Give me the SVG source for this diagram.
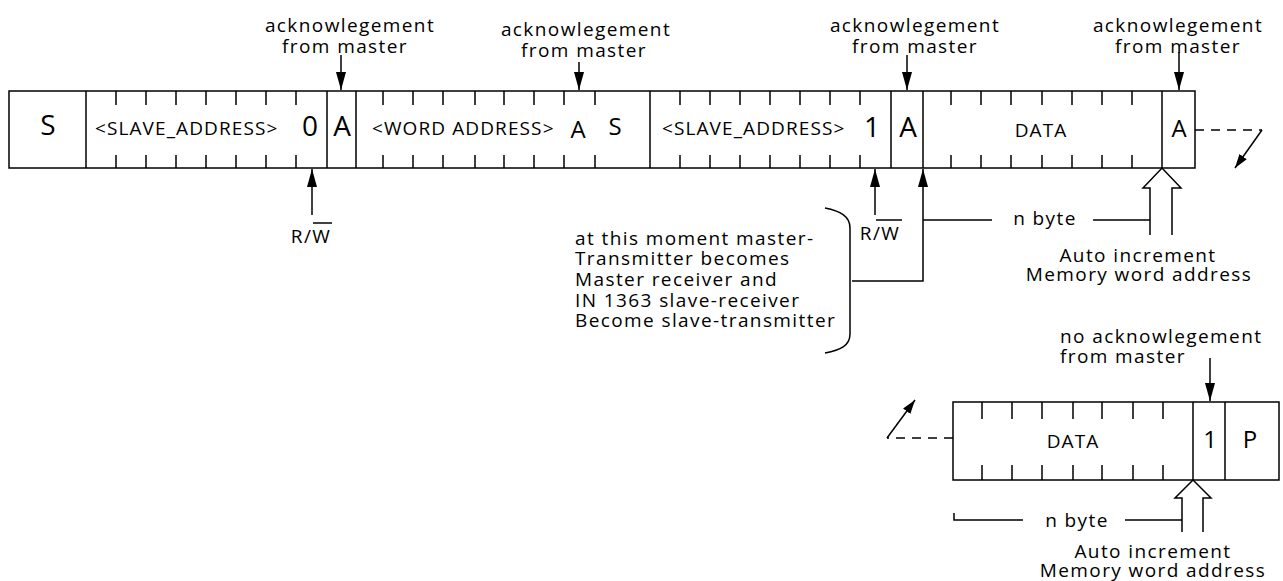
<svg xmlns="http://www.w3.org/2000/svg" width="1283" height="581" viewBox="0 0 1283 581">
<style>
.bx{fill:#fff;stroke:#000;stroke-width:1.5}
.ln{fill:none;stroke:#000;stroke-width:1.5}
.tk{stroke:#000;stroke-width:1.5}
.ds{fill:none;stroke:#000;stroke-width:1.5;stroke-dasharray:9 7}
text{font-family:"Open Sans","Noto Sans","DejaVu Sans",sans-serif;fill:#000}
.lb{font-size:19px;letter-spacing:1.4px}
.ck{font-size:19px;letter-spacing:1.4px;text-anchor:middle}
.fd{font-size:19px;letter-spacing:1.1px}
.bg{font-size:28px;text-anchor:middle}
.md{font-size:24px;text-anchor:middle}
</style>
<defs>
<marker id="ah" markerWidth="18" markerHeight="10" refX="18" refY="5" orient="auto" markerUnits="userSpaceOnUse">
<path d="M0,0 L18,5 L0,10 z" fill="#000"/>
</marker>
<marker id="ahs" markerWidth="14" markerHeight="9" refX="14" refY="4.5" orient="auto" markerUnits="userSpaceOnUse">
<path d="M0,0 L14,4.5 L0,9 z" fill="#000"/>
</marker>
</defs>

<g id="frame-top">
<rect class="bx" x="9" y="91" width="1186" height="77"/>
<path class="tk" d="M86,91V168M327,91V168M356,91V168M650,91V168M891,91V168M923,91V168M1162,91V168"/>
<path class="tk" d="M116,91v14M146,91v14M176,91v14M206,91v14M236,91v14M266,91v14M296,91v14M383,91v14M413,91v14M443,91v14M475,91v14M504,91v14M534,91v14M564,91v14M595,91v14M680,91v14M710,91v14M740,91v14M770,91v14M800,91v14M830,91v14M860,91v14M951,91v14M981,91v14M1011,91v14M1042,91v14M1072,91v14M1102,91v14M1132,91v14"/>
<path class="tk" d="M116,155v13M146,155v13M176,155v13M206,155v13M236,155v13M266,155v13M296,155v13M383,155v13M413,155v13M443,155v13M475,155v13M504,155v13M534,155v13M564,155v13M595,155v13M680,155v13M710,155v13M740,155v13M770,155v13M800,155v13M830,155v13M860,155v13M951,155v13M981,155v13M1011,155v13M1042,155v13M1072,155v13M1102,155v13M1132,155v13"/>
</g>
<g id="start-S"><text class="bg" x="48" y="135">S</text></g>
<g id="slave-address-w"><text class="fd" x="95" y="135">&lt;SLAVE_ADDRESS&gt;</text><text class="bg" x="310" y="136">0</text></g>
<g id="ack-1-cell"><text class="bg" x="342" y="136">A</text></g>
<g id="word-address"><text class="fd" x="372" y="135">&lt;WORD ADDRESS&gt;</text><text class="md" x="578" y="138">A</text><text class="md" x="615" y="135">S</text></g>
<g id="slave-address-r"><text class="fd" x="662" y="135">&lt;SLAVE_ADDRESS&gt;</text><text class="bg" x="872" y="137">1</text></g>
<g id="ack-3-cell"><text class="bg" x="908" y="137">A</text></g>
<g id="data-1"><text class="fd" x="1041" y="137" text-anchor="middle">DATA</text></g>
<g id="ack-4-cell"><text class="md" x="1179" y="137">A</text></g>

<g id="frame-bottom">
<rect class="bx" x="953" y="402" width="326" height="78"/>
<path class="tk" d="M1193,402V480M1225,402V480"/>
<path class="tk" d="M982,402v17M1012,402v17M1042,402v17M1073,402v17M1102,402v17M1133,402v17M1163,402v17M982,465v15M1012,465v15M1042,465v15M1073,465v15M1102,465v15M1133,465v15M1163,465v15"/>
</g>
<g id="data-2"><text class="fd" x="1073" y="448" text-anchor="middle">DATA</text></g>
<g id="nack-cell"><text class="md" x="1210" y="448" font-size="26">1</text></g>
<g id="stop-P"><text class="md" x="1250" y="448" font-size="26">P</text></g>

<g id="label-ack1"><text class="ck" x="350" y="32">acknowlegement</text><text class="ck" x="345" y="53">from master</text></g>
<g id="label-ack2"><text class="ck" x="586" y="36">acknowlegement</text><text class="ck" x="584" y="57">from master</text></g>
<g id="label-ack3"><text class="ck" x="915" y="32">acknowlegement</text><text class="ck" x="915" y="53">from master</text></g>
<g id="label-ack4"><text class="ck" x="1178" y="32">acknowlegement</text><text class="ck" x="1178" y="53">from master</text></g>
<g id="label-nack"><text class="lb" x="1060" y="343">no acknowlegement</text><text class="lb" x="1060" y="363">from master</text></g>
<g id="label-rw1"><text class="ck" x="311" y="243">R/W</text><line class="tk" x1="313" y1="223" x2="332" y2="223"/></g>
<g id="label-rw2"><text class="ck" x="880" y="240">R/W</text><line class="tk" x1="876" y1="220" x2="902" y2="220"/></g>
<g id="label-note">
<text class="lb" x="575" y="245">at this moment master-</text>
<text class="lb" x="575" y="265">Transmitter becomes</text>
<text class="lb" x="575" y="286">Master receiver and</text>
<text class="lb" x="575" y="307">IN 1363 slave-receiver</text>
<text class="lb" x="575" y="327">Become slave-transmitter</text>
</g>
<g id="label-nbyte1"><text class="lb" x="1045" y="225" text-anchor="middle">n byte</text></g>
<g id="label-auto1"><text class="ck" x="1138" y="262">Auto increment</text><text class="ck" x="1139" y="281">Memory word address</text></g>
<g id="label-nbyte2"><text class="lb" x="1077" y="527" text-anchor="middle">n byte</text></g>
<g id="label-auto2"><text class="ck" x="1153" y="558">Auto increment</text><text class="ck" x="1153" y="577">Memory word address</text></g>

<g id="connectors">
<line class="ln" x1="341" y1="55" x2="341" y2="90" marker-end="url(#ah)"/>
<line class="ln" x1="579" y1="62" x2="579" y2="90" marker-end="url(#ah)"/>
<line class="ln" x1="907" y1="55" x2="907" y2="90" marker-end="url(#ah)"/>
<line class="ln" x1="1179" y1="52" x2="1179" y2="90" marker-end="url(#ah)"/>
<line class="ln" x1="312" y1="215" x2="312" y2="169" marker-end="url(#ah)"/>
<line class="ln" x1="875" y1="215" x2="875" y2="169" marker-end="url(#ah)"/>
<polyline class="ln" points="852,281 923,281 923,169" marker-end="url(#ah)"/>
<path class="ln" d="M825,208 C840,211 850,216 850,228 L850,334 C850,346 840,350 825,353"/>
<path class="ln" d="M923,220H992M1093,220H1150"/>
<path class="ln" d="M1150,235V188H1143L1162,168L1181,188H1172V235"/>
<line class="ds" x1="1195" y1="130" x2="1262" y2="130"/>
<line class="ln" x1="1262" y1="130" x2="1235" y2="168" marker-end="url(#ahs)"/>
<line class="ln" x1="1210" y1="358" x2="1210" y2="401" marker-end="url(#ah)"/>
<line class="ds" x1="953" y1="438" x2="887" y2="438"/>
<line class="ln" x1="887" y1="438" x2="915" y2="400" marker-end="url(#ahs)"/>
<path class="ln" d="M1182,532V498H1175L1193,480L1211,498H1203V532"/>
<path class="ln" d="M954,513V520H1023M1125,520H1182"/>
</g>
</svg>
